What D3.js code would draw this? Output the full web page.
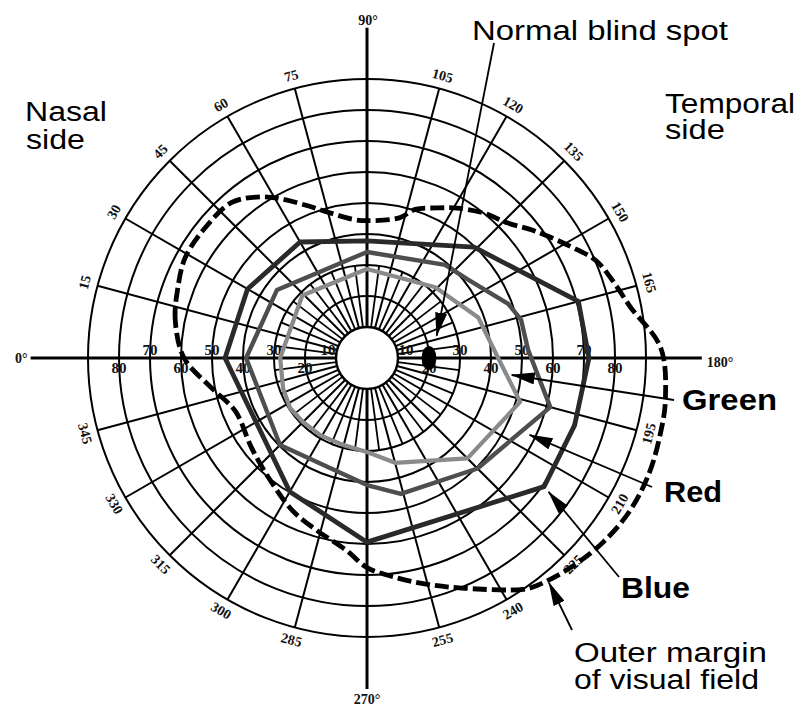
<!DOCTYPE html>
<html><head><meta charset="utf-8">
<script src="https://cdn.jsdelivr.net/npm/d3@7"></script>
<style>body{margin:0;background:#fff}svg{display:block}</style>
</head><body><svg id="c" width="797" height="706"></svg>
<script>
// ---------------- data ----------------
const ringDegrees = [10,20,30,40,50,60,70,80,90];
const meridianAngles = d3.range(0,360,15);
const fineMeridianAngles = d3.range(7.5,360,15);
const meridianLabels = [15,30,45,60,75,105,120,135,150,165,195,210,225,240,255,285,300,315,330,345];
const axisAngles = [0,90,180,270];
const axisLabels = ["0°","90°","180°","270°"];
const axisReach = [108.5,106.5,108,106.8];
const ringLabelsAbove = [10,30,50,70];
const ringLabelsBelow = [20,40,60,80];

// outer margin of visual field (angle in chart degrees, eccentricity in degrees)
const outerAngle = [0,11,20,29,39,49,57,62,69,75,84,90,103,108,115,121,129,136,143,151,157,163,169,178,188,194,202,210,218,226,233,236,247,255,262,270,276,286,296,309,322,338,349];
const outerEcc   = [59,63,65,67,67,66.5,62,58,52.5,48.7,45,44.3,46.4,50.4,53.4,56.4,60.1,62.8,68,74.6,80.3,83.3,86.5,94.8,97.2,97.7,98.3,98.1,96.6,94.2,91.7,90,80.7,75.6,71.7,67.6,62.5,58,54.8,50.1,47.2,45.8,51];

const blueAngle = [0,30,60,90,134,165,180,198,216,270,300];
const blueEcc   = [45.8,44.5,43.2,37.8,49.7,70.6,71.6,70.4,70.6,59.4,49.8];

const redAngle = [0,37,90,130,142,159,166,177,195,225,256,270,315];
const redEcc   = [39,36.4,34.2,39.2,41.2,48.8,51.2,52,61.2,50.4,45.2,41,39.7];

const greenAngle = [0,44,90,134,160,180,196,225,255,270,285,301,315,327,340];
const greenEcc   = [28,29,28.7,31.7,38.2,42.3,51.4,45.8,35,30.3,29.1,29.1,29.2,29.6,28.8];

const blindSpot = {angle:180, ecc:20, w:2.4, h:3.9};

// annotation arrows: tip in polar chart coords
const noteText = ["Green","Red","Blue"];
const noteTipAngle = [186.7,205.3,216.4];
const noteTipEcc = [47,58,72.8];

// ---------------- drawing ----------------
const svg = d3.select("#c");
const cx = 367, cy = 358;
const r = d3.scaleLinear().domain([0,90]).range([0,279]);
const ang = d3.scaleLinear().domain([0,360]).range([-Math.PI/2, 1.5*Math.PI]);
const pt = (a,e) => { const t = ang(a); return [cx + r(e)*Math.sin(t), cy - r(e)*Math.cos(t)]; };

const defs = svg.append("defs");
defs.append("marker").attr("id","arr").attr("markerUnits","userSpaceOnUse")
  .attr("markerWidth",24).attr("markerHeight",12).attr("refX",23).attr("refY",6)
  .attr("orient","auto").append("path").attr("d","M0,0 L24,6 L0,12 Z").attr("fill","#000");

const grid = svg.append("g");
// rings
grid.selectAll("circle.ring").data(ringDegrees.slice(1)).join("circle")
  .attr("class","ring").attr("cx",cx).attr("cy",cy).attr("r",d=>r(d))
  .attr("fill","none").attr("stroke","#000").attr("stroke-width",2);
// meridians
grid.selectAll("line.mer").data(meridianAngles).join("line")
  .attr("class","mer")
  .attr("x1",d=>pt(d,10)[0]).attr("y1",d=>pt(d,10)[1])
  .attr("x2",d=>{const i=axisAngles.indexOf(d);return pt(d,i>=0?axisReach[i]:90)[0];})
  .attr("y2",d=>{const i=axisAngles.indexOf(d);return pt(d,i>=0?axisReach[i]:90)[1];})
  .attr("stroke","#000").attr("stroke-width",d=>axisAngles.includes(d)?3:2);
grid.selectAll("line.fine").data(fineMeridianAngles).join("line")
  .attr("x1",d=>pt(d,10)[0]).attr("y1",d=>pt(d,10)[1])
  .attr("x2",d=>pt(d,30)[0]).attr("y2",d=>pt(d,30)[1])
  .attr("stroke","#000").attr("stroke-width",1.8);
// center disk
grid.append("circle").attr("cx",cx).attr("cy",cy).attr("r",r(10))
  .attr("fill","#fff").attr("stroke","#000").attr("stroke-width",2.4);

// ring labels
const serif = "'Liberation Serif','DejaVu Serif',serif";
const lab = svg.append("g").attr("font-family",serif).attr("font-size",15).attr("font-weight","bold").attr("fill","#111").attr("text-anchor","middle");
[0,180].forEach(side=>{
  lab.selectAll(null).data(ringLabelsAbove).join("text")
    .attr("x",d=>pt(side, d===10?12.6:d)[0]).attr("y",cy-3.5).text(d=>d);
  lab.selectAll(null).data(ringLabelsBelow).join("text")
    .attr("x",d=>pt(side,d)[0]).attr("y",cy+14.5).text(d=>d);
});
// meridian labels around the edge
lab.selectAll(null).data(meridianLabels).join("text")
  .attr("font-size",14)
  .attr("dominant-baseline","central")
  .attr("transform",d=>{const p=pt(d,94.2);const rot=d<180?d-90:d-270;return `translate(${p[0]},${p[1]}) rotate(${rot})`;})
  .text(d=>d);
// axis end labels
const axLab = svg.append("g").attr("font-family",serif).attr("font-size",14).attr("font-weight","bold").attr("fill","#111");
axisAngles.forEach((a,i)=>{
  const p = pt(a, axisReach[i]);
  const t = axLab.append("text").text(axisLabels[i]);
  if(a===0) t.attr("x",p[0]-3).attr("y",p[1]).attr("text-anchor","end").attr("dominant-baseline","central");
  if(a===180) t.attr("x",p[0]+5).attr("y",p[1]+4).attr("text-anchor","start").attr("dominant-baseline","central");
  if(a===90) t.attr("x",p[0]+1).attr("y",p[1]-3).attr("text-anchor","middle");
  if(a===270) t.attr("x",p[0]).attr("y",p[1]+15).attr("text-anchor","middle");
});

// series
const toPts = (A,E) => A.map((a,i)=>({a,e:E[i]}));
const radial = d3.lineRadial().angle(d=>ang(d.a)).radius(d=>r(d.e));
const plot = svg.append("g").attr("transform",`translate(${cx},${cy})`);
plot.append("path").datum(toPts(outerAngle,outerEcc))
  .attr("d",radial.curve(d3.curveCatmullRomClosed.alpha(0.5)))
  .attr("fill","none").attr("stroke","#000").attr("stroke-width",4.8).attr("stroke-dasharray","14,5");
const series = [[blueAngle,blueEcc,"#2a2a2a",4.8],[redAngle,redEcc,"#4e4e4e",4.4],[greenAngle,greenEcc,"#8a8a8a",4.2]];
series.forEach(([A,E,c,w])=>{
  plot.append("path").datum(toPts(A,E))
    .attr("d",d3.lineRadial().angle(d=>ang(d.a)).radius(d=>r(d.e)).curve(d3.curveLinearClosed))
    .attr("fill","none").attr("stroke",c).attr("stroke-width",w).attr("stroke-linejoin","round");
});

// blind spot
const bs = pt(blindSpot.angle, blindSpot.ecc);
svg.append("ellipse").attr("cx",bs[0]).attr("cy",bs[1])
  .attr("rx",r(blindSpot.w)).attr("ry",r(blindSpot.h)).attr("fill","#000");

// annotations
const sans = "'Liberation Sans',Arial,sans-serif";
const ann = svg.append("g").attr("font-family",sans).attr("fill","#000");
const arrow = (x1,y1,p)=> svg.append("line").attr("x1",x1).attr("y1",y1).attr("x2",p[0]).attr("y2",p[1])
  .attr("stroke","#000").attr("stroke-width",1.8).attr("marker-end","url(#arr)");
arrow(494,43, pt(162.3,23.6));
const noteStart = [[674,400],[652,487],[619,577]];
noteText.forEach((t,i)=>arrow(noteStart[i][0],noteStart[i][1], pt(noteTipAngle[i],noteTipEcc[i])));
arrow(572,630, pt(231,93.3));

const txt = (s,x,y,len,size,bold)=> ann.append("text").attr("x",x).attr("y",y)
  .attr("font-size",size).attr("font-weight",bold?"bold":"normal")
  .attr("textLength",len).attr("lengthAdjust","spacingAndGlyphs").text(s);
txt("Normal blind spot",472,39.5,256,27,false);
txt("Temporal",665,113,130,27,false);
txt("side",665,139,60,27,false);
txt("Nasal",25,121,82,27,false);
txt("side",26,149,59,27,false);
txt(noteText[0],682,410,95,30,true);
txt(noteText[1],664,502,58,30,true);
txt(noteText[2],621,598,69,30,true);
txt("Outer margin",574,662,193,27,false);
txt("of visual field",574,689,185,27,false);
</script></body></html>
